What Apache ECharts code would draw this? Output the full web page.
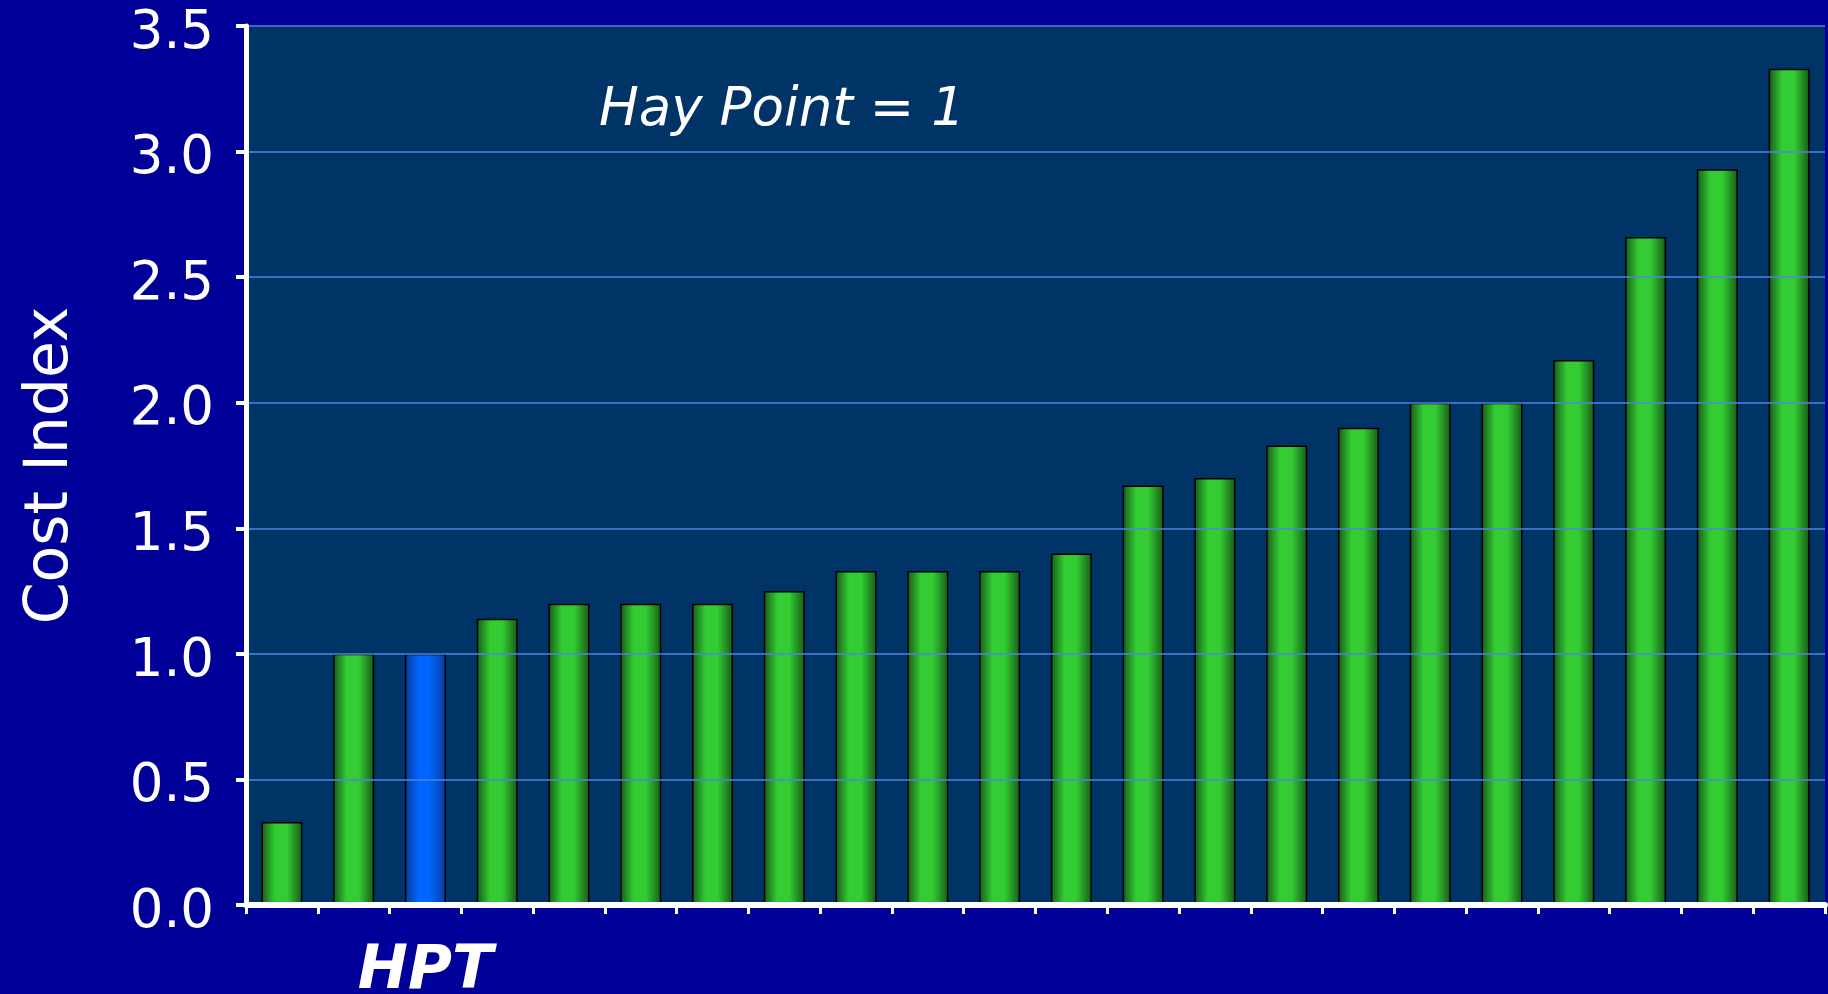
<!DOCTYPE html>
<html>
<head>
<meta charset="utf-8">
<script src="https://cdn.jsdelivr.net/npm/echarts@6/dist/echarts.min.js"></script>
<style>
  html, body { margin: 0; padding: 0; background: #000099; }
  #chart-div { width: 1828px; height: 994px; }
</style>
</head>
<body>
<div id="chart-div"></div>
<script>
// kategoriat (vain HPT näytetään)
const categories = ['p1', 'p2', 'HPT', 'p4', 'p5', 'p6', 'p7', 'p8', 'p9', 'p10', 'p11',
    'p12', 'p13', 'p14', 'p15', 'p16', 'p17', 'p18', 'p19', 'p20', 'p21', 'p22']
const costIndex = [0.33, 1.0, 1.0, 1.14, 1.2, 1.2, 1.2, 1.25, 1.33, 1.33, 1.33,
    1.4, 1.67, 1.7, 1.83, 1.9, 2.0, 2.0, 2.17, 2.66, 2.93, 3.33]
const highlight = 'HPT'
const yTicks = ['0.0', '0.5', '1.0', '1.5', '2.0', '2.5', '3.0', '3.5']

const shadow = {
    textShadowColor: '#000000',
    textShadowOffsetX: 2,
    textShadowOffsetY: 2,
    textShadowBlur: 0
}

const greenBar = new echarts.graphic.LinearGradient(0, 0, 1, 0, [
    { offset: 0, color: '#175a17' },
    { offset: 0.33, color: '#33cc33' },
    { offset: 0.62, color: '#33cc33' },
    { offset: 1, color: '#175a17' }
])
const blueBar = new echarts.graphic.LinearGradient(0, 0, 1, 0, [
    { offset: 0, color: '#0a3a99' },
    { offset: 0.35, color: '#0066ff' },
    { offset: 0.6, color: '#0066ff' },
    { offset: 1, color: '#0a3a99' }
])

let myChart = echarts.init(document.getElementById('chart-div'))

const option = {
    backgroundColor: '#000099',
    animation: false,
    grid: {
        left: 246, right: 3, top: 26, bottom: 89,
        outerBoundsMode: 'none',
        containLabel: false,
        show: true, backgroundColor: '#003366', borderWidth: 0
    },
    graphic: [{
        type: 'text',
        left: 599,
        top: 85,
        style: Object.assign({
            text: 'Hay Point = 1',
            fill: '#ffffff',
            font: 'italic 53px "DejaVu Sans"'
        }, shadow)
    }],
    xAxis: {
        type: 'category',
        data: categories,
        z: 5,
        axisLine: { lineStyle: { color: '#ffffff', width: 6 } },
        axisTick: { show: true, length: 9, lineStyle: { color: '#ffffff', width: 3 } },
        axisLabel: Object.assign({
            interval: 0,
            margin: 37,
            color: '#ffffff',
            fontFamily: 'DejaVu Sans',
            fontSize: 60,
            fontWeight: 'bold',
            fontStyle: 'italic',
            formatter: v => v === highlight ? v : ''
        }, shadow)
    },
    yAxis: {
        type: 'value',
        min: 0, max: 3.5, interval: 0.5,
        z: 5,
        name: 'Cost Index',
        nameLocation: 'middle',
        nameRotate: 90,
        nameGap: 165,
        nameTextStyle: Object.assign({
            color: '#ffffff', fontFamily: 'DejaVu Sans', fontSize: 60
        }, shadow),
        axisLine: { show: true, lineStyle: { color: '#ffffff', width: 5 } },
        axisTick: { show: true, length: 10, lineStyle: { color: '#ffffff', width: 4 } },
        axisLabel: Object.assign({
            margin: 32,
            color: '#ffffff',
            fontFamily: 'DejaVu Sans',
            fontSize: 53,
            formatter: v => '{t|' + yTicks[Math.round(v / 0.5)] + '}',
            rich: {
                t: Object.assign({
                    color: '#ffffff',
                    fontFamily: 'DejaVu Sans',
                    fontSize: 53,
                    padding: [16, 0, 0, 0]
                }, shadow)
            }
        }, shadow),
        splitLine: { lineStyle: { color: '#4f86e0', width: 1.5 } }
    },
    series: [{
        type: 'bar',
        barWidth: 41,
        data: costIndex.map((v, i) => ({
            value: v,
            itemStyle: { color: categories[i] === highlight ? blueBar : greenBar }
        })),
        itemStyle: { borderColor: '#000000', borderWidth: 1.5 }
    }]
}

myChart.setOption(option)
</script>
</body>
</html>
